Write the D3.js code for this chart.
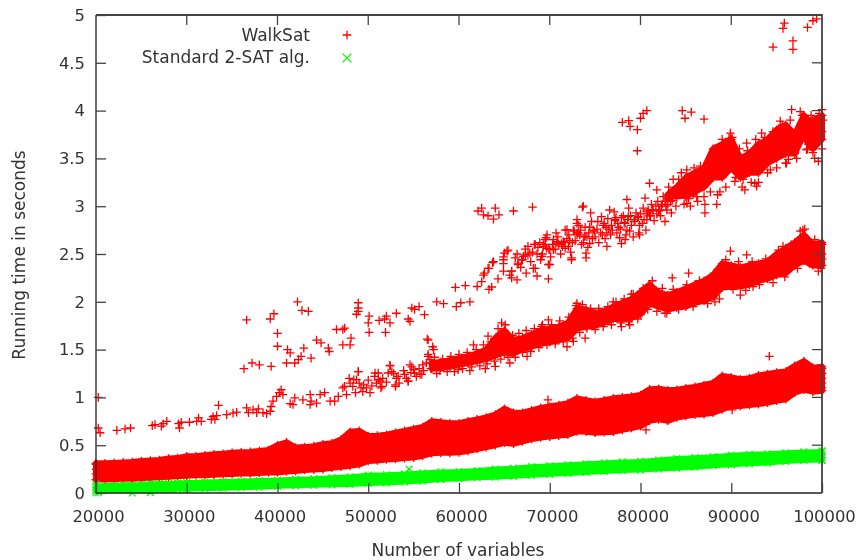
<!DOCTYPE html>
<html>
<head>
<meta charset="utf-8">
<title>WalkSat vs 2-SAT</title>
<script src="https://cdn.jsdelivr.net/npm/d3@7"></script>
<style>
html, body { margin: 0; padding: 0; background: #fff; overflow: hidden; }
svg { display: block; filter: blur(0.35px); }
text { font-family: "DejaVu Sans"; font-size: 17px; fill: #333; }
</style>
</head>
<body>
<div id="chart"></div>
<script>
var xTicks = [20, 30, 40, 50, 60, 70, 80, 90, 100];
var yTicks = [0, 0.5, 1, 1.5, 2, 2.5, 3, 3.5, 4, 4.5, 5];

// solid lowest WalkSat band, one sample per thousand from 20 to 100
var lowX = [20,21,22,23,24,25,26,27,28,29,30,31,32,33,34,35,36,37,38,39,40,41,42,43,44,45,46,47,48,49,50,51,52,53,54,55,56,57,58,59,60,61,62,63,64,65,66,67,68,69,70,71,72,73,74,75,76,77,78,79,80,81,82,83,84,85,86,87,88,89,90,91,92,93,94,95,96,97,98,99,100];
var lowMax = [.31,.31,.315,.32,.325,.335,.34,.345,.36,.365,.385,.385,.395,.405,.41,.42,.425,.43,.44,.45,.5,.53,.475,.48,.49,.51,.52,.56,.64,.65,.595,.6,.61,.63,.65,.67,.69,.75,.74,.73,.73,.75,.77,.79,.82,.88,.84,.84,.865,.89,.905,.92,.94,.99,.97,.955,.97,.99,1,1.01,1.025,1.085,1.09,1.075,1.08,1.095,1.11,1.13,1.15,1.225,1.21,1.19,1.2,1.23,1.245,1.26,1.27,1.33,1.38,1.31,1.32];
var lowMin = [.14,.14,.145,.15,.15,.155,.16,.165,.17,.175,.18,.185,.185,.19,.195,.2,.205,.205,.21,.215,.215,.225,.23,.24,.245,.25,.265,.275,.285,.3,.335,.34,.35,.355,.365,.37,.39,.415,.42,.42,.425,.44,.46,.48,.5,.525,.515,.54,.565,.58,.59,.6,.61,.645,.64,.63,.635,.64,.66,.68,.7,.755,.77,.755,.79,.805,.82,.825,.84,.875,.91,.91,.92,.93,.945,.965,.98,1.05,1.08,1.06,1.07];

// dense middle WalkSat band
var midX = [57,58,59,60,61,62,63,64,65,66,67,68,69,70,71,72,73,74,75,76,77,78,79,80,81,82,83,84,85,86,87,88,89,90,91,92,93,94,95,96,97,98,99,100];
var midMax = [1.36,1.37,1.39,1.41,1.43,1.46,1.5,1.62,1.7,1.6,1.62,1.66,1.7,1.72,1.74,1.78,1.93,1.92,1.88,1.9,1.95,1.99,2.03,2.1,2.18,2.1,2.07,2.1,2.14,2.18,2.22,2.28,2.4,2.38,2.36,2.38,2.4,2.42,2.5,2.56,2.62,2.7,2.6,2.62];
var midMin = [1.3,1.31,1.32,1.34,1.36,1.38,1.4,1.44,1.47,1.46,1.5,1.53,1.56,1.58,1.6,1.62,1.72,1.74,1.75,1.78,1.82,1.82,1.83,1.87,1.98,1.95,1.92,1.94,1.95,1.99,2.01,2.05,2.15,2.16,2.16,2.18,2.22,2.24,2.28,2.3,2.38,2.43,2.38,2.38];

// dense part of the top WalkSat band
var topX = [83,84,85,86,87,88,89,90,91,92,93,94,95,96,97,98,98.5,99,100];
var topMax = [3.12,3.2,3.3,3.35,3.4,3.6,3.65,3.7,3.5,3.55,3.65,3.7,3.8,3.85,3.75,3.95,3.9,3.9,3.95];
var topMin = [3.08,3.12,3.1,3.15,3.2,3.3,3.3,3.4,3.3,3.35,3.35,3.45,3.5,3.55,3.55,3.75,3.65,3.6,3.7];

// standard 2-SAT band
var satX = [20,21,22,23,24,25,26,27,28,29,30,32,34,36,38,40,42,44,46,48,50,52,54,56,58,60,62,64,66,68,70,72,74,76,78,80,82,84,86,88,90,92,94,96,98,100];
var satMax = [.07,.075,.08,.085,.085,.09,.095,.1,.1,.105,.11,.115,.12,.125,.13,.135,.145,.15,.16,.17,.185,.19,.2,.21,.22,.225,.235,.25,.26,.275,.285,.295,.305,.315,.325,.33,.345,.36,.37,.38,.395,.405,.41,.42,.43,.435];
var satMin = [.03,.03,.03,.03,.03,.03,.03,.035,.035,.04,.04,.045,.05,.055,.06,.07,.075,.08,.085,.09,.1,.105,.115,.125,.14,.15,.16,.165,.175,.185,.195,.205,.215,.225,.235,.24,.25,.26,.27,.285,.295,.305,.315,.33,.34,.345];
// green marks that stick out of the band, at its ends mostly
var satExtraX = [54.5,20,20,20,20,20.3,24,26,100,100,100,100];
var satExtraY = [.25,0,.03,.06,.09,.005,0,.005,.34,.37,.4,.44];

// single WalkSat marks that can be told apart in the picture
var pointX = [
 20.25,20.25,20.45,22.3,23.2,23.8,26.2,26.5,27.4,27.8,27.2,29.1,29.4,29.2,30.3,31.3,31.1,31.6,32.7,32.9,33.3,33.5,33.1,34.4,35.1,35.5,36.6,36.8,37.3,37.9,37.7,38.4,38.8,39.2,39.3,39.5,39.9,40.4,40.6,40.2,
 41.4,41.7,41.9,42.8,43.6,43.7,43.6,44.3,44.7,45.2,45.8,46.3,46.7,47.2,47.6,48,48.3,48.9,48.7,49.2,49.8,50.2,50.7,51.3,51.4,51.1,52.4,52.6,53,53.1,54.4,54,54.8,55.1,55.9,56,56.6,56.5,
 36.3,37.2,38,39.3,36.6,39.2,39.6,40,40,41.1,41.4,41,41.9,42.3,42.6,42.9,43.7,42.2,42.7,43.4,44.3,44.8,45.6,45.7,46.5,47.2,47.4,47.2,48,48.1,48.9,48.9,48.7,48.9,50,50.1,50.1,51.2,51.8,52,52.4,51.9,53.1,54.4,54.6,54.8,55.1,55.6,56.2,
 57.55,58.3,59.7,60.2,61.2,59.6,60.7,62,62.5,62.8,63.6,63.3,64.3,63.8,64.9,63.2,65,65.4,64.9,65.8,65.8,66.4,66.5,66.9,67.3,67.8,68.3,68.4,68.6,67.4,69.85,69.6,69.3,70,69.85,69.1,70.8,71.5,71.9,72.4,73,73.1,73.7,74,73.9,
 62.1,62.5,62.7,63.2,63.8,64,64.4,66,68.1,
 47.4,48.4,48.9,49.5,50.75,51.5,51.1,52.4,52.2,53,53.3,54.6,54.4,55.7,55,56.6,57.1,56.6,56.8,57.55,58.5,59.9,61.2,60.5,61.6,62.9,64,63.2,64.7,64.5,64.9,65.6,65.8,67.5,69.85,69.1,71.9,72.6,73,73.9,
 89.9,91.7,91,92.4,85.3,83.5,88.2,99.6,98.1,97.6,95.7,82.7,80.1,78.8,77.9,79,77,
 78,78.7,78.85,79.65,80,80.3,80.7,79.65,84.6,85.6,84.9,87,94.6,96.8,96.8,95.85,95.7,98.4,99,99.4,
 62.7,63.3,63.7,64.9,65.3,64.9,65.6,65.8,66.5,67.1,67.6,68.4,68.2,69.5,69.65,70,69.3,70.4,71.3,71.7,72.05,72.4,73,72.6,73.1,73.6,74.1,74,74.5,74.8,74.4,75.7,76.3,76.3,76.6,77.2,77.4,77.9,78.5,78.65,78.5,78.3,79.75,79.9,80.5,80.85,80.7,81,81.8,82.1,82.7,83.4,83.25,84.2,85.1,84.7,85.1,86.2,87.1,87.1,86.7,88.4,88.75,87.8,88.75,89.9,89.75,89.3,90.4,91.5,91.3,92.8,92.6,91.7,93.35,94.3,95.4,96.1,96.3,97,96.65,97.6,98.3,99,99.6,100,100.1,100,
 94.2,69.8,90.1,80.6
];
var pointY = [
 1,.68,.63,.655,.67,.68,.705,.715,.725,.75,.7,.725,.74,.68,.74,.785,.75,.75,.77,.8,.81,.917,.77,.82,.835,.845,.89,.84,.87,.88,.84,.84,.83,.855,.905,.96,1.01,1.08,1.03,1.05,
 .935,.925,.995,.975,1.03,.96,.925,.94,1.03,1.05,.96,.96,1.01,1.1,1.03,1.15,1.115,1.27,1.185,1.1,1.1,1.05,1.22,1.17,1.1,1.255,1.33,1.27,1.115,1.2,1.17,1.24,1.32,1.255,1.24,1.34,1.43,1.61,
 1.3,1.36,1.34,1.325,1.81,1.82,1.875,1.67,1.535,1.5,1.465,1.36,1.36,1.395,1.43,1.515,1.41,2,1.91,1.9,1.6,1.57,1.515,1.48,1.71,1.71,1.725,1.55,1.55,1.62,1.99,1.935,1.87,1.9,1.78,1.85,1.68,1.805,1.82,1.85,1.78,1.68,1.88,1.82,1.795,1.935,1.92,1.95,1.865,
 2,1.98,1.95,1.99,2,2.15,2.17,2.16,2.21,2.3,2.155,2.13,2.24,2.42,2.32,2.35,2.51,2.54,2.44,2.32,2.25,2.23,2.39,2.44,2.49,2.51,2.6,2.35,2.27,2.3,2.24,2.67,2.6,2.545,2.39,2.475,2.615,2.63,2.755,2.44,2.82,2.72,3,2.51,2.685,
 2.95,2.98,2.91,2.9,2.865,2.98,2.91,2.95,2.99,
 1.115,1.185,1.27,1.13,1.255,1.115,1.185,1.335,1.255,1.13,1.22,1.34,1.17,1.24,1.29,1.6,1.53,1.45,1.395,1.25,1.36,1.29,1.28,1.395,1.55,1.3,1.325,1.64,1.78,1.67,1.6,1.36,1.53,1.43,1.81,1.74,1.53,1.585,1.985,1.62,
 2.53,2.49,2.07,2.16,2.3,2.25,2,2.32,2.76,2.74,2.58,1.88,2.11,1.76,1.74,2.08,2,
 3.877,3.895,3.835,3.8,3.92,3.97,4,3.58,4,3.985,3.92,3.91,4.665,4.73,4.64,4.915,4.86,4.87,4.94,4.96,
 2.28,2.35,2.41,2.47,2.53,2.4,2.28,2.32,2.405,2.475,2.49,2.6,2.35,2.65,2.56,2.39,2.58,2.545,2.61,2.75,2.58,2.46,2.86,2.75,2.72,2.99,2.68,2.46,2.93,2.75,2.61,2.89,2.72,2.58,2.96,2.86,2.72,2.61,3.07,2.89,2.75,2.65,2.89,2.7,3.085,2.96,2.86,3.24,3.17,2.96,2.84,2.93,3.14,3.28,3.38,3.14,3.03,3.1,2.93,3.02,3.38,3.02,3.15,3.42,3.52,3.765,3.71,3.63,3.26,3.17,3.28,3.21,3.24,3.66,3.765,3.38,3.89,3.45,3.49,3.56,4.01,3.99,3.59,3.56,3.47,4.01,3.9,3.78,
 1.43,.975,.87,.66
];

// thick clouds of marks around the top and middle bands
var cloudTopX = [66.2,66.8,67.3,67.9,68.6,68.9,69.2,69.7,70.1,70.6,70.9,71.2,71.6,72.1,72.3,72.8,73.2,73.5,73.9,74.2,74.6,75,75.4,75.9,76.1,76.4,76.9,77.1,77.5,77.7,78.1,78.4,78.7,79,79.2,79.5,79.9,80.3,80.6,81,81.2,81.5,81.9,82.2,82.5,82.8,83.1,83.3,83.6,83.9,84.1,84.5,84.8,85.2,85.5,85.9,86.3,86.6,87,87.4,87.7,88.1,88.5,89,89.4,90.1,90.5,90.9,91.2,91.8,92.2,92.7,93,93.7,94,94.6,95,95.6,96,96.5,97.2,97.8,98.4,98.8,99.2,99.7,100,
 70.3,70.8,71.4,71.9,72.5,73,73.4,73.8,74.3,74.7,75.2,75.6,76,76.5,76.8,77.2,77.6,77.9,78.2,78.6,78.9,79.3,79.7,80,80.4,80.8,81.1,81.4,81.7,82,82.3,82.7,83,83.4,83.7,84,84.3,84.6,85,85.4,85.7,86.1,86.5,86.9,87.3,87.6,88,88.4,88.8,89.2,
 66.4,67,67.6,68.1,68.7,69,69.5,69.9,70.4,70.7,71,71.7,72.2,72.7,73.3,73.7,74.4,74.9,75.3,75.8,76.2,76.7,77.3,77.8,78.3,78.8,79.4,79.8,80.2,80.7,81.3,81.8,82.4,82.9,83.5,84.2,84.7,85.3,85.8,86.4];
var cloudTopY = [2.46,2.36,2.55,2.42,2.5,2.62,2.5,2.7,2.47,2.55,2.68,2.5,2.62,2.7,2.52,2.64,2.8,2.6,2.78,2.57,2.84,2.68,2.62,2.8,2.66,2.87,2.75,2.94,2.82,2.67,2.9,2.7,2.98,2.8,2.68,2.93,2.8,2.98,2.75,2.9,3.02,2.85,3.05,2.9,3.1,3,3.2,3.05,3.28,3,3.15,3.35,3.02,3.22,3,3.4,3.05,3.42,3.1,3.45,3.15,3.6,3.12,3.7,3.2,3.72,3.3,3.6,3.2,3.58,3.25,3.7,3.25,3.72,3.35,3.78,3.4,3.85,3.45,3.9,3.5,3.95,3.6,3.95,3.5,3.97,3.6,
 2.6,2.63,2.58,2.66,2.62,2.7,2.75,2.68,2.72,2.66,2.76,2.72,2.82,2.76,2.8,2.85,2.78,2.88,2.83,2.86,2.9,2.84,2.88,2.92,2.86,2.94,2.9,2.96,3,2.95,3,3.05,3.02,3.1,3.14,3.08,3.18,3.12,3.2,3.15,3.25,3.2,3.28,3.24,3.3,3.36,3.32,3.4,3.45,3.42,
 2.5,2.44,2.58,2.52,2.57,2.44,2.6,2.55,2.65,2.72,2.6,2.56,2.64,2.74,2.7,2.62,2.78,2.74,2.84,2.7,2.78,2.7,2.88,2.76,2.82,2.74,2.86,2.72,2.82,2.92,2.96,2.92,3.02,2.96,3.06,3.2,3.25,3.08,3.12,3.2];
var cloudMidX = [47.9,48.6,49,49.4,50,50.4,50.9,51.6,52,52.8,53.4,53.9,54.2,54.7,55.3,55.6,56.1,56.4,56.9,57.2,57.3,57.9,58.2,58.7,59.1,59.5,60,60.4,60.9,61.4,61.9,62.3,62.7,63.1,63.5,63.9,64.3,64.6,65.1,65.4,65.9,66.2,66.6,67,67.4,67.9,68.3,68.8,69.2,69.7,70.2,70.6,71.1,71.5,72.1,72.5,72.9,73.3,73.6,74.1,74.5,75,75.4,75.9,76.4,76.8,77.3,77.8,78.2,78.7,79.2,79.7,80.3,80.8,81.3,81.8,82.4,82.9,83.6,84.2,85.1,85.8,86.5,87.4,88.1,88.7,89.4,90.2,90.8,91.6,92.3,93.1,93.8,94.6,95.2,95.9,96.6,97.3,97.9,98.6,99.2,99.9,100,100,100];
var cloudMidY = [1.2,1.05,1.15,1.06,1.18,1.12,1.15,1.2,1.16,1.25,1.15,1.28,1.2,1.26,1.22,1.3,1.28,1.36,1.3,1.5,1.42,1.28,1.4,1.27,1.43,1.27,1.45,1.3,1.47,1.32,1.5,1.33,1.55,1.35,1.58,1.38,1.72,1.4,1.76,1.42,1.65,1.42,1.67,1.47,1.7,1.48,1.72,1.52,1.76,1.55,1.76,1.56,1.8,1.58,1.84,1.62,1.96,1.68,1.97,1.72,1.93,1.71,1.93,1.74,1.95,1.76,2,1.78,2.03,1.79,2.08,1.82,2.14,1.92,2.22,1.9,2.14,1.88,2.13,1.92,2.18,1.95,2.22,1.98,2.3,2.03,2.44,2.13,2.42,2.12,2.42,2.18,2.45,2.2,2.54,2.26,2.6,2.35,2.75,2.4,2.65,2.35,2.6,2.45,2.5];
// marks stacked on the left and right ends of the lowest band
var edgeX = [20,20,20,20,100,100,100,100,100];
var edgeY = [.14,.2,.25,.3,1.1,1.15,1.2,1.25,1.3];

var width = 856, height = 560;
var left = 96, right = 822, top_ = 15, bottom = 493;

var svg = d3.select('#chart').append('svg')
    .attr('width', width)
    .attr('height', height);

var x = d3.scaleLinear().domain([20, 100]).range([left, right]);
var y = d3.scaleLinear().domain([0, 5]).range([bottom, top_]);

var walkColor = '#ff0000', satColor = '#00ff00';

// merged marks read as a solid band, the stroke stands in for their half width
function bandArea(xs, lo, hi, color, edge) {
    var area = d3.area()
        .x(function(i) { return x(xs[i]); })
        .y0(function(i) { return y(lo[i]); })
        .y1(function(i) { return y(hi[i]); });
    svg.append('path')
        .attr('d', area(d3.range(xs.length)))
        .attr('fill', color)
        .attr('stroke', color)
        .attr('stroke-width', edge)
        .attr('stroke-linejoin', 'round');
}

function plus(g, px, py, r) {
    g.append('path')
        .attr('d', 'M' + (px - r) + ',' + py + 'H' + (px + r) + 'M' + px + ',' + (py - r) + 'V' + (py + r))
        .attr('fill', 'none')
        .attr('stroke', walkColor)
        .attr('stroke-width', 1.3);
}

function cross(g, px, py, r) {
    g.append('path')
        .attr('d', 'M' + (px - r) + ',' + (py - r) + 'L' + (px + r) + ',' + (py + r) + 'M' + (px - r) + ',' + (py + r) + 'L' + (px + r) + ',' + (py - r))
        .attr('fill', 'none')
        .attr('stroke', satColor)
        .attr('stroke-width', 1.3);
}

// walksat marks
bandArea(lowX, lowMin, lowMax, walkColor, 6);
bandArea(midX, midMin, midMax, walkColor, 6);
bandArea(topX, topMin, topMax, walkColor, 6);

var walkG = svg.append('g');
[[lowX, lowMin], [lowX, lowMax], [midX, midMin], [midX, midMax], [topX, topMin], [topX, topMax],
 [pointX, pointY], [cloudTopX, cloudTopY], [cloudMidX, cloudMidY], [edgeX, edgeY]].forEach(function(s) {
    s[0].forEach(function(v, i) {
        plus(walkG, x(v), y(s[1][i]), 4.3);
    });
});

// 2-SAT marks are plotted after walksat, so they lie on top
bandArea(satX, satMin, satMax, satColor, 5);
var satG = svg.append('g');
[[satX, satMin], [satX, satMax], [satExtraX, satExtraY]].forEach(function(s) {
    s[0].forEach(function(v, i) {
        cross(satG, x(v), y(s[1][i]), 3.4);
    });
});

// frame and ticks go over the data
svg.append('path')
    .attr('d', 'M' + left + ',' + top_ + 'V' + bottom + 'H' + right)
    .attr('fill', 'none').attr('stroke', '#222').attr('stroke-width', 1.3);
svg.append('path')
    .attr('d', 'M' + left + ',' + top_ + 'H' + right + 'V' + bottom)
    .attr('fill', 'none').attr('stroke', '#444').attr('stroke-width', 1.8);

var xAxis = d3.axisBottom(x).tickValues(xTicks).tickSize(-10).tickFormat(function(d) { return d * 1000; });
var yAxis = d3.axisLeft(y).tickValues(yTicks).tickSize(-10).tickFormat(function(d) { return d; });

var gx = svg.append('g').attr('transform', 'translate(0,' + bottom + ')').call(xAxis);
var gy = svg.append('g').attr('transform', 'translate(' + left + ',0)').call(yAxis);
gx.select('.domain').remove();
gy.select('.domain').remove();
gx.selectAll('line').attr('stroke', '#444').attr('stroke-width', 1.3);
gy.selectAll('line').attr('stroke', '#444').attr('stroke-width', 1.3);
gx.selectAll('text').attr('y', 17).attr('dx', 2).attr('dy', '0.71em').style('font-family', 'DejaVu Sans').style('font-size', '16.4px');
gy.selectAll('text').attr('x', -11).attr('dy', '0.32em').style('font-family', 'DejaVu Sans').style('font-size', '16.4px');

// mirrored ticks on the top and right sides
var gx2 = svg.append('g');
xTicks.slice(1, -1).forEach(function(d) {
    gx2.append('line').attr('x1', x(d)).attr('x2', x(d)).attr('y1', top_).attr('y2', top_ + 10)
        .attr('stroke', '#444').attr('stroke-width', 1.3);
});
yTicks.slice(1, -1).forEach(function(d) {
    gx2.append('line').attr('x1', right - 10).attr('x2', right).attr('y1', y(d)).attr('y2', y(d))
        .attr('stroke', '#444').attr('stroke-width', 1.3);
});

svg.append('text').text('Number of variables')
    .attr('x', 458).attr('y', 556).attr('text-anchor', 'middle');
svg.append('text').text('Running time in seconds')
    .attr('transform', 'translate(25,255) rotate(-90)').attr('text-anchor', 'middle');

// legend
svg.append('text').text('WalkSat').attr('x', 310).attr('y', 41).attr('text-anchor', 'end');
svg.append('text').text('Standard 2-SAT alg.').attr('x', 310).attr('y', 63).attr('text-anchor', 'end');
var legendG = svg.append('g');
plus(legendG, 347, 35, 4.3);
cross(legendG, 347, 58, 4.4);
</script>
</body>
</html>
